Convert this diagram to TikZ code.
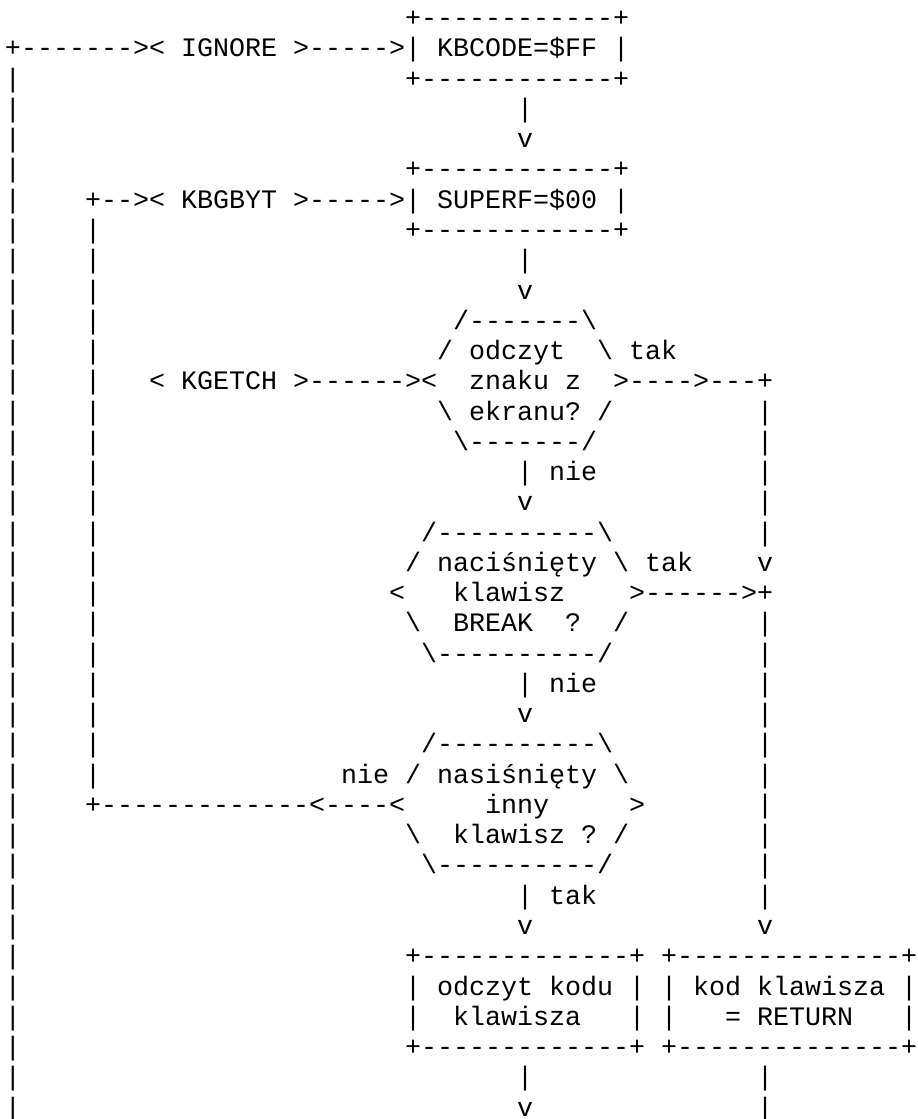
\documentclass[tikz,border=0pt]{standalone}
\usepackage{fontspec}
\setmonofont{Liberation Mono}

\tikzset{
  asc/.style={anchor=base west, inner sep=0pt, outer sep=0pt,
    font=\fontsize{26.67pt}{30.26pt}\selectfont}
}

\begin{document}
\begin{tikzpicture}[x=16pt,y=-30.26pt]

\path [use as bounding box] (0,0) rectangle (57.375,36.98);

\begin{scope}[shift={(0.3125,0.882)}]
\node[asc] (r1)  at (0,0)  {\verb!                         +------------+!};
\node[asc] (r2)  at (0,1)  {\verb!+------->< IGNORE >----->| KBCODE=$FF |!};
\node[asc] (r3)  at (0,2)  {\verb!|                        +------------+!};
\node[asc] (r4)  at (0,3)  {\verb!|                               |!};
\node[asc] (r5)  at (0,4)  {\verb!|                               v!};
\node[asc] (r6)  at (0,5)  {\verb!|                        +------------+!};
\node[asc] (r7)  at (0,6)  {\verb!|    +--><!\verb! KBGBYT >----->| SUPERF=$00 |!};
\node[asc] (r8)  at (0,7)  {\verb!|    |                   +------------+!};
\node[asc] (r9)  at (0,8)  {\verb!|    |                          |!};
\node[asc] (r10) at (0,9)  {\verb!|    |                          v!};
\node[asc] (r11) at (0,10) {\verb!|    |                      /-------\!};
\node[asc] (r12) at (0,11) {\verb!|    |                     / odczyt  \ tak!};
\node[asc] (r13) at (0,12) {\verb!|    |   < KGETCH >------><  znaku z  >---->---+!};
\node[asc] (r14) at (0,13) {\verb!|    |                     \ ekranu? /         |!};
\node[asc] (r15) at (0,14) {\verb!|    |                      \-------/          |!};
\node[asc] (r16) at (0,15) {\verb!|    |                          | nie          |!};
\node[asc] (r17) at (0,16) {\verb!|    |                          v              |!};
\node[asc] (r18) at (0,17) {\verb!|    |                    /----------\         |!};
\node[asc] (r19) at (0,18) {\verb!|    |                   / naciśnięty \ tak    v!};
\node[asc] (r20) at (0,19) {\verb!|    |                  <   klawisz    >------>+!};
\node[asc] (r21) at (0,20) {\verb!|    |                   \  BREAK  ?  /        |!};
\node[asc] (r22) at (0,21) {\verb!|    |                    \----------/         |!};
\node[asc] (r23) at (0,22) {\verb!|    |                          | nie          |!};
\node[asc] (r24) at (0,23) {\verb!|    |                          v              |!};
\node[asc] (r25) at (0,24) {\verb!|    |                    /----------\         |!};
\node[asc] (r26) at (0,25) {\verb!|    |               nie / nasiśnięty \        |!};
\node[asc] (r27) at (0,26) {\verb!|    +-------------<----<     inny     >       |!};
\node[asc] (r28) at (0,27) {\verb!|                        \  klawisz ? /        |!};
\node[asc] (r29) at (0,28) {\verb!|                         \----------/         |!};
\node[asc] (r30) at (0,29) {\verb!|                               | tak          |!};
\node[asc] (r31) at (0,30) {\verb!|                               v              v!};
\node[asc] (r32) at (0,31) {\verb!|                        +-------------+ +--------------+!};
\node[asc] (r33) at (0,32) {\verb!|                        | odczyt kodu | | kod klawisza |!};
\node[asc] (r34) at (0,33) {\verb!|                        |  klawisza   | |   = RETURN   |!};
\node[asc] (r35) at (0,34) {\verb!|                        +-------------+ +--------------+!};
\node[asc] (r36) at (0,35) {\verb!|                               |              |!};
\node[asc] (r37) at (0,36) {\verb!|                               v              |!};
\end{scope}

\end{tikzpicture}
\end{document}
